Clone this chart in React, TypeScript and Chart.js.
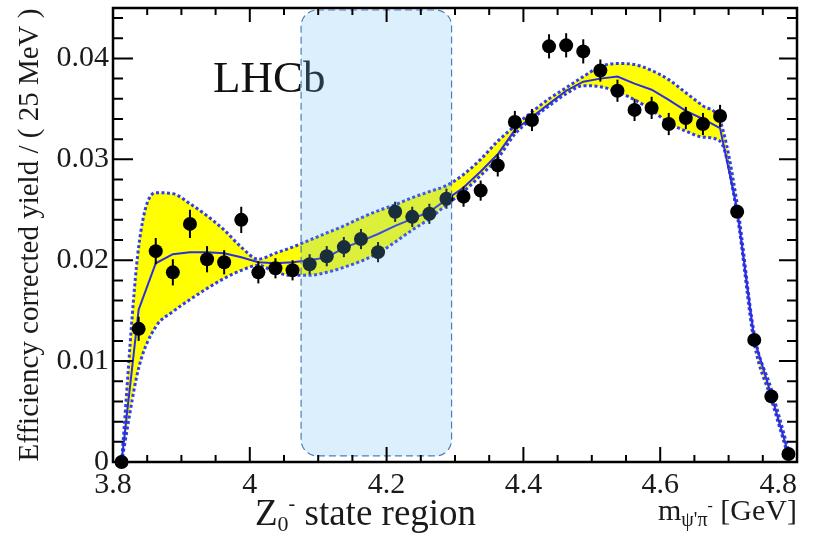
import { useEffect, useRef } from 'react';
import { Chart, registerables } from 'chart.js';

Chart.register(...registerables);

// Bin centres of the psi' pi- invariant mass spectrum (GeV), 25 MeV bins
const massBins = [
  3.8125, 3.8375, 3.8625, 3.8875, 3.9125, 3.9375, 3.9625, 3.9875, 4.0125, 4.0375,
  4.0625, 4.0875, 4.1125, 4.1375, 4.1625, 4.1875, 4.2125, 4.2375, 4.2625, 4.2875,
  4.3125, 4.3375, 4.3625, 4.3875, 4.4125, 4.4375, 4.4625, 4.4875, 4.5125, 4.5375,
  4.5625, 4.5875, 4.6125, 4.6375, 4.6625, 4.6875, 4.7125, 4.7375, 4.7625, 4.7875,
];

// Efficiency corrected yield per bin
const yields = [
  0.0000, 0.0132, 0.0209, 0.0188, 0.0236, 0.0201, 0.0198, 0.0240, 0.0188, 0.0192,
  0.0190, 0.0196, 0.0204, 0.0213, 0.0221, 0.0208, 0.0248, 0.0243, 0.0246, 0.0261,
  0.0263, 0.0269, 0.0294, 0.0337, 0.0339, 0.0412, 0.0413, 0.0407, 0.0388, 0.0368,
  0.0349, 0.0351, 0.0335, 0.0341, 0.0335, 0.0343, 0.0248, 0.0121, 0.0065, 0.0008,
];

// Statistical uncertainty per bin
const yieldErrors = [
  0.0004, 0.0012, 0.0013, 0.0013, 0.0014, 0.0013, 0.0012, 0.0013, 0.0011, 0.0010,
  0.0010, 0.0010, 0.0010, 0.0010, 0.0010, 0.0010, 0.0010, 0.0010, 0.0010, 0.0010,
  0.0010, 0.0010, 0.0011, 0.0011, 0.0011, 0.0012, 0.0012, 0.0012, 0.0011, 0.0011,
  0.0011, 0.0011, 0.0011, 0.0011, 0.0011, 0.0011, 0.0006, 0.0005, 0.0004, 0.0003,
];

// Fit projection evaluated at the bin centres
const fitCurve = [
  0.0000, 0.0151, 0.0197, 0.0206, 0.0208, 0.0208, 0.0207, 0.0203, 0.0198, 0.0197,
  0.0198, 0.0200, 0.0203, 0.0212, 0.0219, 0.0226, 0.0234, 0.0241, 0.0248, 0.0260,
  0.0272, 0.0288, 0.0305, 0.0329, 0.0342, 0.0355, 0.0368, 0.0377, 0.0380, 0.0382,
  0.0375, 0.0369, 0.0359, 0.0348, 0.0340, 0.0331, 0.0250, 0.0122, 0.0066, 0.0008,
];

// Upper and lower edges of the fit uncertainty band
const fitBandUpper = [
  0.0000, 0.0213, 0.0267, 0.0266, 0.0256, 0.0244, 0.0230, 0.0213, 0.0201, 0.0207,
  0.0213, 0.0220, 0.0227, 0.0234, 0.0242, 0.0249, 0.0255, 0.0262, 0.0268, 0.0274,
  0.0285, 0.0300, 0.0318, 0.0333, 0.0347, 0.0360, 0.0371, 0.0382, 0.0392, 0.0395,
  0.0394, 0.0388, 0.0379, 0.0366, 0.0353, 0.0338, 0.0256, 0.0127, 0.0072, 0.0012,
];
const fitBandLower = [
  0.0000, 0.0093, 0.0134, 0.0149, 0.0161, 0.0172, 0.0182, 0.0190, 0.0195, 0.0188,
  0.0185, 0.0185, 0.0188, 0.0193, 0.0199, 0.0207, 0.0218, 0.0230, 0.0241, 0.0255,
  0.0268, 0.0284, 0.0301, 0.0325, 0.0340, 0.0353, 0.0365, 0.0373, 0.0372, 0.0367,
  0.0359, 0.0349, 0.0336, 0.0328, 0.0322, 0.0318, 0.0245, 0.0118, 0.0062, 0.0005,
];

// Mass window highlighted as the Z0- state region
const regionMass = [4.075, 4.295];
const regionYield = [0.0006, 0.0448];

// Axis ranges and tick spacing
const massRange = [3.8, 4.8];
const yieldRange = [0, 0.045];
const massMajorStep = 0.2;
const massMinorStep = 0.05;
const yieldMajorStep = 0.01;
const yieldMinorStep = 0.002;

const SERIF = '"Liberation Serif", "Times New Roman", Times, serif';
const INK = '#1a1a1a';

const toPoints = (values: number[]) => massBins.map((m, i) => ({ x: m, y: values[i] }));

// Draws a run of text pieces (normal, subscript, superscript) starting at x
function drawRich(
  ctx: CanvasRenderingContext2D,
  parts: { t: string; size: number; dy: number }[],
  x: number,
  baseline: number,
  align: 'left' | 'right'
) {
  let total = 0;
  for (const p of parts) {
    ctx.font = `${p.size}px ${SERIF}`;
    total += ctx.measureText(p.t).width;
  }
  let cx = align === 'right' ? x - total : x;
  ctx.textAlign = 'left';
  ctx.textBaseline = 'alphabetic';
  for (const p of parts) {
    ctx.font = `${p.size}px ${SERIF}`;
    ctx.fillText(p.t, cx, baseline + p.dy);
    cx += ctx.measureText(p.t).width;
  }
}

const decorations = {
  id: 'decorations',
  // vertical error bars, drawn just before the data markers
  beforeDatasetDraw(chart: any, args: any) {
    if (args.index !== 0) return;
    const { ctx } = chart;
    const { x, y } = chart.scales;
    ctx.save();
    ctx.strokeStyle = '#000';
    ctx.lineWidth = 2;
    massBins.forEach((m, i) => {
      const px = x.getPixelForValue(m);
      ctx.beginPath();
      ctx.moveTo(px, y.getPixelForValue(yields[i] - yieldErrors[i]));
      ctx.lineTo(px, y.getPixelForValue(yields[i] + yieldErrors[i]));
      ctx.stroke();
    });
    ctx.restore();
  },
  afterDatasetsDraw(chart: any) {
    const { ctx, chartArea: a } = chart;
    const { x, y } = chart.scales;
    ctx.save();

    // experiment label
    ctx.font = `45px ${SERIF}`;
    ctx.fillStyle = '#111';
    ctx.textAlign = 'left';
    ctx.textBaseline = 'alphabetic';
    ctx.fillText('LHCb', a.left + 100, a.top + 84);

    // translucent Z0- region box
    const rx0 = x.getPixelForValue(regionMass[0]);
    const rx1 = x.getPixelForValue(regionMass[1]);
    const ry0 = y.getPixelForValue(regionYield[1]);
    const ry1 = y.getPixelForValue(regionYield[0]);
    ctx.beginPath();
    ctx.roundRect(rx0, ry0, rx1 - rx0, ry1 - ry0, 16);
    ctx.fillStyle = 'rgba(107, 190, 243, 0.24)';
    ctx.fill();
    ctx.setLineDash([7, 4]);
    ctx.strokeStyle = '#4d7dbf';
    ctx.lineWidth = 1.2;
    ctx.stroke();
    ctx.setLineDash([]);

    // inward ticks on all four sides
    ctx.strokeStyle = '#000';
    ctx.lineWidth = 2;
    ctx.beginPath();
    const nY = Math.round((yieldRange[1] - yieldRange[0]) / yieldMinorStep);
    const perMajorY = Math.round(yieldMajorStep / yieldMinorStep);
    for (let k = 0; k <= nY; k++) {
      const py = y.getPixelForValue(yieldRange[0] + k * yieldMinorStep);
      const major = k % perMajorY === 0;
      ctx.moveTo(a.left, py);
      ctx.lineTo(a.left + (major ? 20 : 10), py);
      ctx.moveTo(a.right, py);
      ctx.lineTo(a.right - (major ? 18 : 10), py);
    }
    const nX = Math.round((massRange[1] - massRange[0]) / massMinorStep);
    const perMajorX = Math.round(massMajorStep / massMinorStep);
    for (let k = 0; k <= nX; k++) {
      const px = x.getPixelForValue(massRange[0] + k * massMinorStep);
      const major = k % perMajorX === 0;
      ctx.moveTo(px, a.bottom);
      ctx.lineTo(px, a.bottom - (major ? 15 : 7));
      ctx.moveTo(px, a.top);
      ctx.lineTo(px, a.top + (major ? 14 : 7));
    }
    ctx.stroke();

    // frame
    ctx.lineWidth = 2.5;
    ctx.strokeRect(a.left, a.top, a.right - a.left, a.bottom - a.top);

    // mass tick labels (last one kept inside the frame)
    ctx.fillStyle = INK;
    ctx.font = `30px ${SERIF}`;
    ctx.textBaseline = 'alphabetic';
    const ticks = x.ticks;
    ticks.forEach((t: any, i: number) => {
      const label = String(Number(t.value.toFixed(1)));
      const px = x.getPixelForValue(t.value);
      const last = i === ticks.length - 1;
      ctx.textAlign = last ? 'right' : 'center';
      ctx.fillText(label, last ? a.right : px, a.bottom + 31);
    });

    // axis title of the mass axis
    drawRich(
      ctx,
      [
        { t: 'm', size: 30, dy: 0 },
        { t: "\u03c8'\u03c0", size: 20, dy: 6 },
        { t: '-', size: 16, dy: -9 },
        { t: ' [GeV]', size: 30, dy: 0 },
      ],
      a.right,
      a.bottom + 58,
      'right'
    );

    // caption of the highlighted window
    drawRich(
      ctx,
      [
        { t: 'Z', size: 37, dy: 0 },
        { t: '0', size: 22, dy: 6 },
        { t: '-', size: 20, dy: -15 },
        { t: ' state region', size: 37, dy: 0 },
      ],
      255,
      a.bottom + 63,
      'left'
    );

    ctx.restore();
  },
};

export default function App() {
  const canvasRef = useRef<HTMLCanvasElement | null>(null);

  useEffect(() => {
    const canvas = canvasRef.current;
    if (!canvas) return;
    const chart = new Chart(canvas, {
      type: 'line',
      data: {
        datasets: [
          {
            label: 'data',
            data: toPoints(yields),
            showLine: false,
            pointRadius: 7,
            pointHoverRadius: 7,
            pointBackgroundColor: '#000',
            pointBorderColor: '#000',
            pointBorderWidth: 0,
            clip: false,
          },
          {
            label: 'fit',
            data: toPoints(fitCurve),
            borderColor: '#2a2ee0',
            borderWidth: 2,
            pointRadius: 0,
            tension: 0,
            fill: false,
          },
          {
            label: 'band upper',
            data: toPoints(fitBandUpper),
            borderColor: '#2f3cf0',
            borderWidth: 3,
            borderDash: [3, 2.5],
            pointRadius: 0,
            cubicInterpolationMode: 'monotone',
            backgroundColor: '#ffff00',
            fill: { target: '+1' },
          },
          {
            label: 'band lower',
            data: toPoints(fitBandLower),
            borderColor: '#2f3cf0',
            borderWidth: 3,
            borderDash: [3, 2.5],
            pointRadius: 0,
            cubicInterpolationMode: 'monotone',
            fill: false,
          },
        ],
      },
      options: {
        responsive: false,
        devicePixelRatio: 1,
        animation: false,
        events: [],
        layout: { padding: { top: 8, right: 22, left: 0, bottom: 0 } },
        plugins: {
          legend: { display: false },
          tooltip: { enabled: false },
          title: { display: false },
          filler: { drawTime: 'beforeDatasetsDraw' },
        },
        scales: {
          x: {
            type: 'linear',
            min: massRange[0],
            max: massRange[1],
            grid: { display: false },
            border: { display: false },
            ticks: { display: false, stepSize: massMajorStep },
            afterFit: (scale: any) => {
              scale.height = 71;
              scale.paddingLeft = 0;
              scale.paddingRight = 0;
            },
          },
          y: {
            type: 'linear',
            min: yieldRange[0],
            max: yieldRange[1],
            grid: { display: false, drawTicks: false },
            border: { display: false },
            ticks: {
              stepSize: yieldMajorStep,
              includeBounds: false,
              padding: 4,
              color: INK,
              font: { family: SERIF, size: 30 },
              callback: (v: any) => (Number(v) === 0 ? '0' : Number(v).toFixed(2)),
            },
            title: {
              display: true,
              text: 'Efficiency corrected yield / ( 25 MeV )',
              color: INK,
              font: { family: SERIF, size: 29 },
              padding: { top: 13, bottom: 0 },
            },
            afterFit: (scale: any) => {
              scale.width = 113;
              scale.paddingTop = 0;
              scale.paddingBottom = 0;
            },
          },
        },
      },
      plugins: [decorations],
    } as any);
    return () => chart.destroy();
  }, []);

  return (
    <div style={{ position: 'fixed', left: 0, top: 0, width: 819, height: 533, background: '#fff' }}>
      <canvas ref={canvasRef} width={819} height={533} style={{ display: 'block' }} />
    </div>
  );
}
